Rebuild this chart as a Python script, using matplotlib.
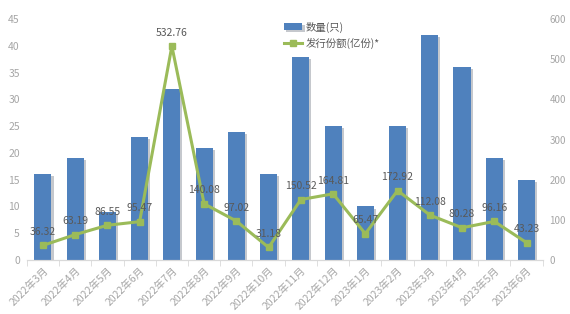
import matplotlib
matplotlib.use("Agg")
import matplotlib.pyplot as plt
import matplotlib.patheffects as pe
import numpy as np

plt.rcParams['font.family'] = ['Noto Sans CJK SC', 'DejaVu Sans']

months = ["2022年3月", "2022年4月", "2022年5月", "2022年6月", "2022年7月", "2022年8月",
          "2022年9月", "2022年10月", "2022年11月", "2022年12月", "2023年1月", "2023年2月",
          "2023年3月", "2023年4月", "2023年5月", "2023年6月"]
counts = [16, 19, 9, 23, 32, 21, 24, 16, 38, 25, 10, 25, 42, 36, 19, 15]
shares = [36.32, 63.19, 86.55, 95.47, 532.76, 140.08, 97.02, 31.18, 150.52, 164.81,
          65.47, 172.92, 112.08, 80.28, 96.16, 43.23]

bar_color = "#4F81BD"
line_color = "#9BBB59"
tick_color = "#A6A6A6"
label_color = "#595959"

fig = plt.figure(figsize=(5.7, 3.14), dpi=100)
ax = fig.add_axes([0.047, 0.172, 0.905, 0.767])
ax2 = ax.twinx()

x = np.arange(len(months))
bars = ax.bar(x, counts, width=0.53, color=bar_color, zorder=2, label="数量(只)")
for b in bars:
    b.set_path_effects([pe.SimplePatchShadow(offset=(1.5, -1.5), alpha=0.25), pe.Normal()])

ax2.plot(x, shares, color=line_color, lw=2.2, marker="s", ms=5, zorder=3,
         label="发行份额(亿份)*")
for xi, v in zip(x, shares):
    ax2.annotate(f"{v:.2f}", (xi, v), xytext=(0, 6), textcoords="offset points",
                 ha="center", va="bottom", fontsize=7.5, color=label_color)

ax.set_xlim(-0.5, len(months) - 0.5)
ax.set_ylim(0, 45)
ax2.set_ylim(0, 600)
ax.set_yticks(range(0, 46, 5))
ax2.set_yticks(range(0, 601, 100))

ax.set_xticks(x)
ax.set_xticklabels(months, rotation=45, ha="right", rotation_mode="anchor")
ax.set_xticks(np.arange(-0.5, len(months), 1), minor=True)
ax.tick_params(axis="x", which="major", length=0, colors=tick_color, labelsize=7.5, pad=4)
ax.tick_params(axis="x", which="minor", length=4, color="#D9D9D9")
ax.tick_params(axis="y", length=0, colors=tick_color, labelsize=7.5, pad=5)
ax2.tick_params(axis="y", length=0, colors=tick_color, labelsize=7, pad=5)

for a in (ax, ax2):
    for s in ("top", "left", "right"):
        a.spines[s].set_visible(False)
    a.spines["bottom"].set_color("#D9D9D9")

h1, l1 = ax.get_legend_handles_labels()
h2, l2 = ax2.get_legend_handles_labels()
leg = ax2.legend(h1 + h2, l1 + l2, loc="upper left", bbox_to_anchor=(0.49, 1.008),
                 frameon=False, fontsize=7.5, labelcolor=label_color,
                 handlelength=1.8, handleheight=0.6, labelspacing=0.5,
                 handletextpad=0.3, borderaxespad=0)

fig.savefig("out.png", dpi=100)
